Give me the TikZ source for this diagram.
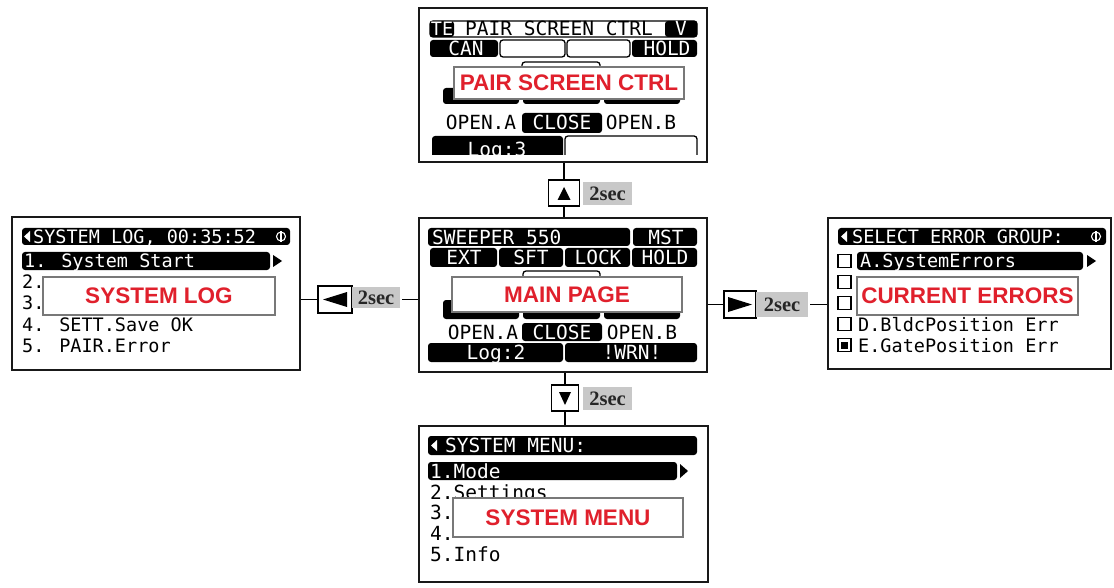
\documentclass[tikz,border=0pt]{standalone}
\usepackage{fontspec}
\newfontfamily\lcdfam{DejaVu Sans Mono}
\newfontfamily\arialfam{Liberation Sans}
\newfontfamily\timesfam{Liberation Serif}
\definecolor{tagred}{RGB}{224,32,44}
\definecolor{secgray}{RGB}{200,200,200}
\definecolor{tagedge}{RGB}{120,120,120}
\newcommand\lcdL{\lcdfam\fontsize{19.5}{20}\selectfont}
\newcommand\lcdS{\lcdfam\fontsize{18.5}{20}\selectfont}
\newcommand\tagf{\arialfam\bfseries\fontsize{22.5}{23}\selectfont}
\newcommand\secf{\timesfam\bfseries\fontsize{20.5}{21}\selectfont}
\begin{document}
\begin{tikzpicture}[x=1pt,y=-1pt,
  screen/.style={draw=black!90, line width=1.6pt, fill=white, inner sep=0pt},
  blk/.style={fill=black, rounded corners=3pt},
  obox/.style={draw=black, line width=1.3pt, rounded corners=3pt},
  lw/.style={text=white, inner sep=0pt, text height=14pt, text depth=0pt, font=\lcdL},
  lk/.style={lw, text=black},
  sw/.style={text=white, inner sep=0pt, text height=13.5pt, text depth=0pt, font=\lcdS},
  sk/.style={sw, text=black},
  tag/.style={draw=tagedge, line width=1.4pt, fill=white, text=tagred, font=\tagf, inner sep=0pt},
  btn/.style={draw=black, line width=1.5pt, fill=white, inner sep=0pt},
  sec/.style={fill=secgray, font=\secf, text=black!85, inner sep=0pt},
  conn/.style={draw=black, line width=1.8pt},
  chk/.style={draw=black, line width=1.1pt, fill=white}
]
\fill[white] (0,0) rectangle (1114,588);
\useasboundingbox (0,0) rectangle (1114,588);

% screens
\node[screen, minimum width=288pt, minimum height=154pt] (pair) at (563,85) {};
\node[screen, minimum width=288pt, minimum height=154pt] (main) at (563,295) {};
\node[screen, minimum width=289pt, minimum height=156pt] (menu) at (563.5,504) {};
\node[screen, minimum width=288pt, minimum height=153pt] (log) at (156,293.5) {};
\node[screen, minimum width=283pt, minimum height=151pt] (err) at (969.5,293.5) {};

% ---- pair screen
\draw[obox] (430,21) rectangle (697,37);
\fill[blk] (430,21) rectangle (454,37);
\fill[blk] (665,21) rectangle (697,37);
\node[sw] (pTE) at (442,29) {TE};
\node[lk] (pTitle) at (559,29) {PAIR SCREEN CTRL};
\node[lw] (pV) at (681,29) {V};
\fill[blk] (430,40) rectangle (498,57);
\node[lw] (pCAN) at (466,48.5) {CAN};
\draw[obox] (500,40) rectangle (565,57);
\draw[obox] (567,40) rectangle (630,57);
\fill[blk] (632,40) rectangle (697,57);
\node[lw] (pHOLD) at (667,48.5) {HOLD};
\draw[obox] (522,62) rectangle (600,80);
\fill[blk] (443,88) rectangle (519,104);
\fill[blk] (523,88) rectangle (600,104);
\fill[blk] (604,88) rectangle (680,104);
\node[lk] (pOA) at (481,123) {OPEN.A};
\fill[blk] (522,113) rectangle (602,133);
\node[lw] (pCL) at (562,123) {CLOSE};
\node[lk] (pOB) at (641,123) {OPEN.B};
\begin{scope}
\clip (419,130) rectangle (707,155);
\fill[blk] (432,136) rectangle (563,162);
\node[lw] (pLog) at (497,150) {Log:3};
\draw[obox] (565,136) rectangle (697,162);
\end{scope}
\node[tag, minimum width=230pt, minimum height=32pt] (tagP) at (569,83) {PAIR SCREEN CTRL};

% ---- main screen
\fill[blk] (428,228) rectangle (630,246);
\node[lw, anchor=west] (mSW) at (432,237) {SWEEPER 550};
\fill[blk] (633,228) rectangle (697,246);
\node[lw] (mMST) at (666,237) {MST};
\fill[blk] (430,248) rectangle (497,267);
\node[lw] (mEXT) at (464,257.5) {EXT};
\fill[blk] (499,248) rectangle (563,267);
\node[lw] (mSFT) at (531,257.5) {SFT};
\fill[blk] (565,248) rectangle (630,267);
\node[lw] (mLOCK) at (598,257.5) {LOCK};
\fill[blk] (632,248) rectangle (697,267);
\node[lw] (mHOLD) at (665,257.5) {HOLD};
\draw[obox] (523,271) rectangle (600,288);
\fill[blk] (443,300) rectangle (519,319);
\fill[blk] (523,300) rectangle (600,319);
\fill[blk] (604,300) rectangle (680,319);
\node[lk] (mOA) at (483,332) {OPEN.A};
\fill[blk] (522,323) rectangle (602,341);
\node[lw] (mCL) at (562,332) {CLOSE};
\node[lk] (mOB) at (642,332) {OPEN.B};
\fill[blk] (428,343) rectangle (563,362);
\node[lw] (mLog) at (496,352.5) {Log:2};
\fill[blk] (565,343) rectangle (697,362);
\node[lw] (mWRN) at (632,352.5) {!WRN!};
\node[tag, minimum width=230pt, minimum height=35pt] (tagM) at (567,294.5) {MAIN PAGE};

% ---- menu screen
\fill[blk] (428,436) rectangle (697,455);
\fill[white] (431,445.5) -- (437,440) -- (437,451) -- cycle;
\node[lw, anchor=west] (nHead) at (445,445.5) {SYSTEM MENU:};
\fill[blk] (428,462) rectangle (677,480);
\node[lw, anchor=west] (n1) at (430,471) {1.Mode};
\fill[black] (680,464) -- (688,471) -- (680,478) -- cycle;
\node[lk, anchor=west] (n2) at (430,492) {2.Settings};
\node[lk, anchor=west] (n3) at (430,512.5) {3.};
\node[lk, anchor=west] (n4) at (430,533) {4.};
\node[lk, anchor=west] (n5) at (430,554) {5.Info};
\node[tag, minimum width=230pt, minimum height=39pt] (tagN) at (568,517.5) {SYSTEM MENU};

% ---- log screen
\fill[blk] (22,228) rectangle (290,245);
\fill[white] (24,236.5) -- (30,231) -- (30,242) -- cycle;
\node[sw, anchor=west] (lHead) at (33,236.5) {SYSTEM LOG, 00:35:52};
\draw[white, line width=1.1pt] (281,236.5) circle (4.5pt);
\draw[white, line width=1.1pt] (281,231) -- (281,242);
\fill[blk] (22,252) rectangle (270,270);
\node[sw, anchor=west] (l1) at (24,261) {1. System Start};
\fill[black] (273,255) -- (282,261) -- (273,267) -- cycle;
\node[sk, anchor=west] (l2) at (22,282) {2.};
\node[sk, anchor=west] (l3) at (22,303) {3.};
\node[sk, anchor=west] (l4) at (22,325) {4. SETT.Save OK};
\node[sk, anchor=west] (l5) at (22,346) {5. PAIR.Error};
\node[tag, minimum width=232pt, minimum height=38pt] (tagL) at (159,296) {SYSTEM LOG};

% ---- error screen
\fill[blk] (838,228) rectangle (1106,245);
\fill[white] (841,236.5) -- (847,231) -- (847,242) -- cycle;
\node[sw, anchor=west] (eHead) at (852,236.5) {SELECT ERROR GROUP:};
\draw[white, line width=1.1pt] (1096,236.5) circle (4.5pt);
\draw[white, line width=1.1pt] (1096,231) -- (1096,242);
\foreach \yy in {261,282,303,324,345} {
  \draw[chk] (838,\yy-6.5) rectangle (851,\yy+6.5);
}
\fill[black] (841,341.5) rectangle (848,348.5);
\fill[blk] (857,252) rectangle (1083,270);
\node[sw, anchor=west] (e1) at (860,261) {A.SystemErrors};
\fill[black] (1087,255) -- (1096,261) -- (1087,267) -- cycle;
\node[sk, anchor=west] (e4) at (858,324.5) {D.BldcPosition Err};
\node[sk, anchor=west] (e5) at (858,345.5) {E.GatePosition Err};
\node[tag, minimum width=221pt, minimum height=38pt] (tagE) at (967.5,296) {CURRENT ERRORS};

% ---- buttons and labels
\node[btn, minimum width=31pt, minimum height=26pt] (bU) at (564,193) {};
\fill[black] (557.5,200) -- (570.5,200) -- (564,187) -- cycle;
\node[sec, minimum width=49pt, minimum height=23pt] (sU) at (607.5,193.5) {2sec};
\node[btn, minimum width=27pt, minimum height=26pt] (bD) at (565,398) {};
\fill[black] (559,392) -- (571,392) -- (565,405) -- cycle;
\node[sec, minimum width=49pt, minimum height=23pt] (sD) at (607.5,398.5) {2sec};
\node[btn, minimum width=34pt, minimum height=27pt] (bL) at (335,299.5) {};
\fill[black] (347,292) -- (347,307) -- (323,299.5) -- cycle;
\node[sec, minimum width=48pt, minimum height=21pt] (sL) at (376,297.5) {2sec};
\node[btn, minimum width=32pt, minimum height=27pt] (bR) at (740,304.5) {};
\fill[black] (728,297) -- (728,312) -- (752,304.5) -- cycle;
\node[sec, minimum width=52pt, minimum height=25pt] (sR) at (782,304.5) {2sec};

% ---- connectors
\draw[conn] (bU.north |- pair.south) -- (bU.north);
\draw[conn] (bU.south) -- (bU.south |- main.north);
\draw[conn] (bD.north |- main.south) -- (bD.north);
\draw[conn] (bD.south) -- (bD.south |- menu.north);
\draw[conn] (log.east |- bL.west) -- (bL.west);
\draw[conn] ([xshift=2pt]sL.east |- bL.west) -- (main.west |- bL.west);
\draw[conn] (main.east |- bR.west) -- (bR.west);
\draw[conn] ([xshift=2pt]sR.east) -- (err.west |- sR.east);
\end{tikzpicture}
\end{document}
